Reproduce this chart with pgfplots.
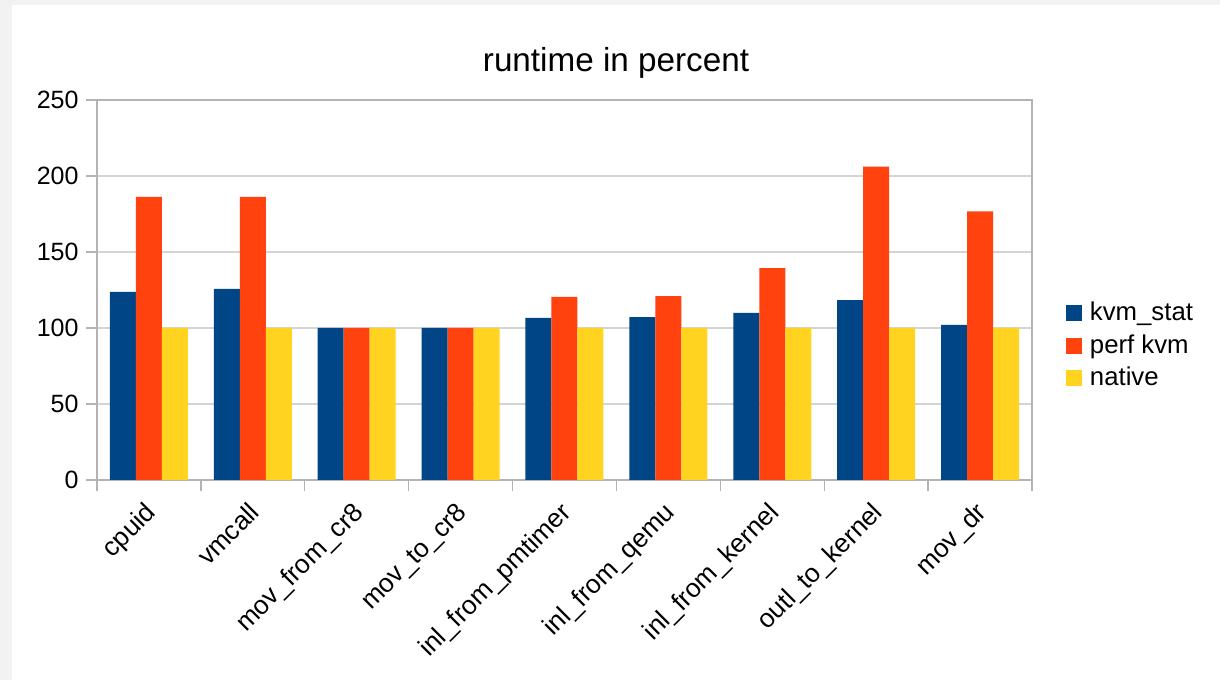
\documentclass[border=0pt]{standalone}
\usepackage{fontspec}
\setmainfont{Liberation Sans}
\usepackage{pgfplots}
\pgfplotsset{compat=1.18}
\definecolor{kvmblue}{HTML}{004586}
\definecolor{perforange}{HTML}{FF420E}
\definecolor{nativeyellow}{HTML}{FFD320}
\definecolor{bggray}{HTML}{F2F2F2}
\definecolor{axgray}{HTML}{B3B3B3}
\definecolor{gridgray}{HTML}{D4D4D4}
\begin{document}
\begin{tikzpicture}
\fill[bggray] (0,0) rectangle (488pt,272pt);
\fill[white] (4.8pt,0) rectangle (488pt,270pt);
\node[anchor=base, font=\fontsize{13.3}{15}\selectfont, inner sep=0pt] at (246.4pt,243.2pt) {runtime in percent};
\begin{axis}[
  at={(38.8pt,80pt)}, anchor=south west,
  scale only axis, width=374pt, height=152pt,
  ybar=0pt, bar width=10.4pt,
  legend image code/.code={\fill[#1] (0pt,-3.2pt) rectangle (6.4pt,3.2pt);},
  xmin=-0.5, xmax=8.5, ymin=0, ymax=250,
  xtick={0,1,2,3,4,5,6,7,8},
  xticklabels={cpuid,vmcall,mov\_from\_cr8,mov\_to\_cr8,inl\_from\_pmtimer,inl\_from\_qemu,inl\_from\_kernel,outl\_to\_kernel,mov\_dr},
  minor xtick={-0.5,0.5,1.5,2.5,3.5,4.5,5.5,6.5,7.5,8.5},
  ytick={0,50,100,150,200,250},
  tick pos=left,
  tick align=outside,
  major tick length=4.4pt, minor tick length=4.4pt,
  major x tick style={draw=none},
  tick style={axgray, line width=0.5pt},
  axis line style={axgray, line width=0.5pt},
  ymajorgrids, grid style={gridgray, line width=0.5pt},
  /pgf/number format/assume math mode=true,
  yticklabel style={font=\fontsize{10}{12}\selectfont, inner sep=0pt, xshift=-2.8pt},
  xticklabel style={font=\fontsize{10.5}{12}\selectfont, rotate=45, anchor=north east, inner sep=0pt, xshift=-4.1pt, yshift=-1.0pt},
  legend style={at={(1,0.353)}, anchor=west, xshift=13.6pt, draw=none, fill=none,
    inner sep=0pt, outer sep=0pt, row sep=0pt, column sep=3.2pt,
    nodes={inner sep=0pt, minimum height=13pt, font=\fontsize{10.3}{12}\selectfont}},
  legend cell align=left,
]
\addplot[fill=kvmblue, draw=none] coordinates {(0,123.7) (1,125.7) (2,100) (3,100) (4,106.6) (5,107.2) (6,109.9) (7,118.4) (8,102)};
\addplot[fill=perforange, draw=none] coordinates {(0,186.2) (1,186.2) (2,100) (3,100) (4,120.4) (5,121.0) (6,139.4) (7,206.2) (8,176.7)};
\addplot[fill=nativeyellow, draw=none] coordinates {(0,100) (1,100) (2,100) (3,100) (4,100) (5,100) (6,100) (7,100) (8,100)};
\legend{kvm\_stat, perf kvm, native}
\end{axis}
\end{tikzpicture}
\end{document}
